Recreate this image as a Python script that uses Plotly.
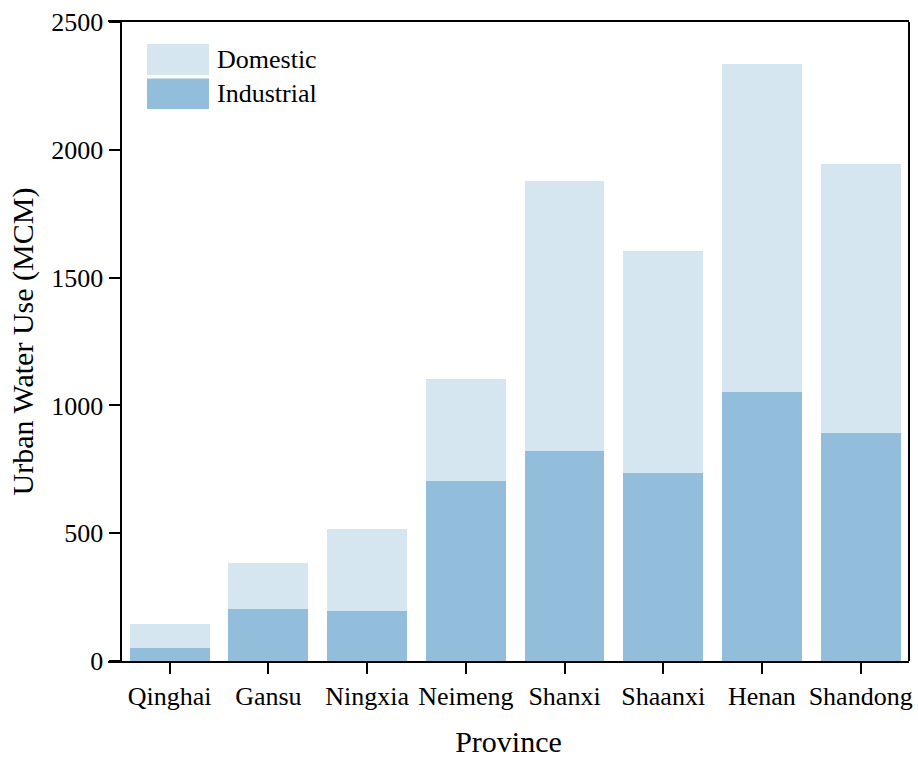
import plotly.graph_objects as go

# Urban water use by province (million cubic metres)
provinces = ["Qinghai", "Gansu", "Ningxia", "Neimeng", "Shanxi", "Shaanxi", "Henan", "Shandong"]
industrial = [52, 202, 197, 705, 821, 734, 1053, 892]
domestic = [94, 182, 320, 400, 1058, 871, 1282, 1052]
y_ticks = [0, 500, 1000, 1500, 2000, 2500]

color_domestic = "#d6e6f1"
color_industrial = "#92bedc"
font_family = "Liberation Serif, Times New Roman, serif"

W, H = 918, 758
ML, MR, MT, MB = 108, 9, 22, 97
PW, PH = W - ML - MR, H - MT - MB


def px_x(px):
    return (px - ML) / PW


def px_y(py):
    return (H - MB - py) / PH


fig = go.Figure()
fig.add_trace(go.Bar(x=provinces, y=industrial, name="Industrial",
                     marker=dict(color=color_industrial, line=dict(width=0)),
                     width=0.81, showlegend=False))
fig.add_trace(go.Bar(x=provinces, y=domestic, name="Domestic",
                     marker=dict(color=color_domestic, line=dict(width=0)),
                     width=0.81, showlegend=False))

shapes = [
    # right frame line
    dict(type="line", xref="paper", yref="paper", x0=1, x1=1, y0=0, y1=1,
         line=dict(color="black", width=2)),
]
annotations = []
# legend swatches and labels
legend_items = [("Domestic", color_domestic, 44, 75), ("Industrial", color_industrial, 78.5, 109)]
for label, col, top, bottom in legend_items:
    shapes.append(dict(type="rect", xref="paper", yref="paper",
                       x0=px_x(147), x1=px_x(209), y0=px_y(bottom), y1=px_y(top),
                       fillcolor=col, line=dict(width=0)))
    annotations.append(dict(text=label, xref="paper", yref="paper",
                            x=px_x(215), y=px_y((top + bottom) / 2),
                            xanchor="left", yanchor="middle", showarrow=False,
                            font=dict(family=font_family, size=26, color="black")))

fig.update_layout(
    width=W, height=H,
    margin=dict(l=ML, r=MR, t=MT, b=MB),
    barmode="stack",
    plot_bgcolor="white", paper_bgcolor="white",
    font=dict(family=font_family, size=26, color="black"),
    shapes=shapes,
    annotations=annotations,
    xaxis=dict(
        type="category",
        range=[-0.625, 7.49],
        automargin=False,
        showline=True, linecolor="black", linewidth=2, mirror=True,
        ticks="outside", ticklen=11, tickwidth=2, tickcolor="black",
        showgrid=False, zeroline=False,
        tickfont=dict(family=font_family, size=26),
        title=dict(text="Province", font=dict(family=font_family, size=30), standoff=22),
    ),
    yaxis=dict(
        range=[0, 2500],
        tickvals=y_ticks,
        automargin=False,
        anchor="free", position=px_x(120.5),
        showline=True, linecolor="black", linewidth=2,
        ticks="outside", ticklen=11, tickwidth=2, tickcolor="black",
        showgrid=False, zeroline=False,
        tickfont=dict(family=font_family, size=26),
        title=dict(text="Urban Water Use (MCM)", font=dict(family=font_family, size=30), standoff=8),
    ),
)

fig.write_html("out.html")
